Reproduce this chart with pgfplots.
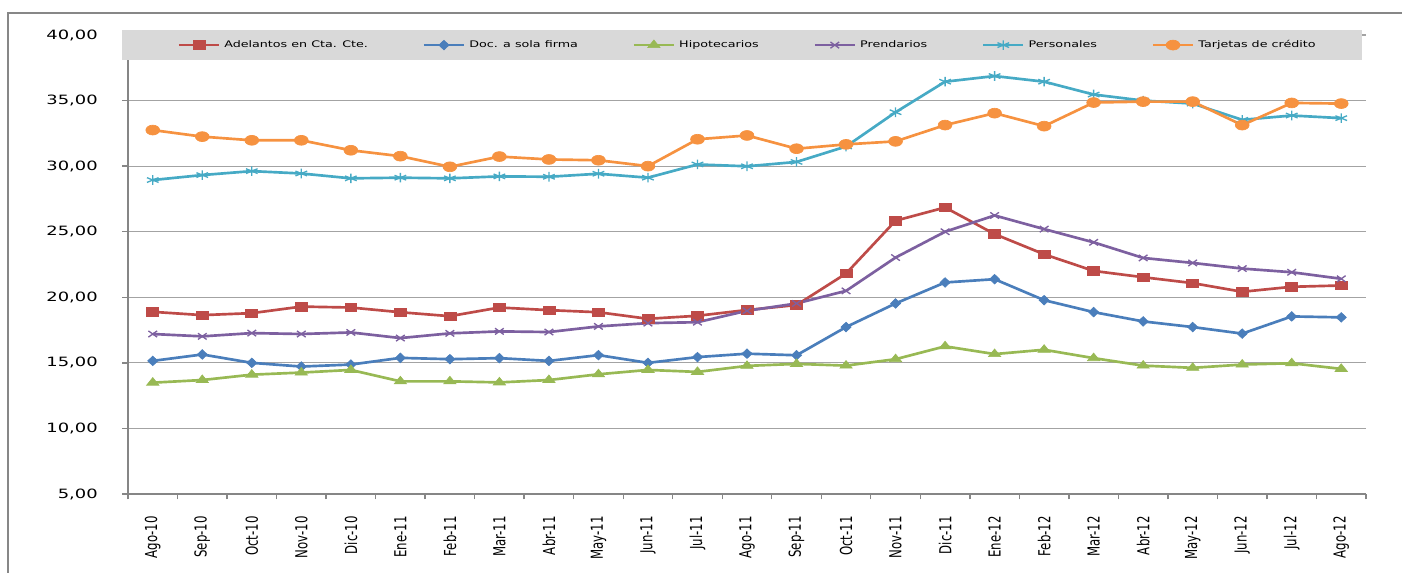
\documentclass[border=0pt]{standalone}
\usepackage{fontspec}
\setmainfont{DejaVu Sans}[FakeStretch=1.4]
\newfontfamily\tallfont{DejaVu Sans}[FakeStretch=0.71]
\usepackage{pgfplots}
\usepackage{pgfplotstable}
\pgfplotsset{compat=1.18}
\definecolor{cred}{HTML}{BE4B48}
\definecolor{cblue}{HTML}{4A7EBB}
\definecolor{cgreen}{HTML}{98B954}
\definecolor{cpurple}{HTML}{7D60A0}
\definecolor{cteal}{HTML}{46AAC5}
\definecolor{corange}{HTML}{F69240}
\definecolor{framegray}{HTML}{878787}
\definecolor{axisgray}{HTML}{868686}
\definecolor{gridgray}{HTML}{A3A3A3}
\definecolor{leggray}{HTML}{D9D9D9}

\pgfplotstableread{
x adel doc hipo prend pers tarj
0 18.89 15.15 13.49 17.20 28.94 32.75
1 18.64 15.64 13.69 17.02 29.32 32.25
2 18.79 15.00 14.10 17.27 29.62 31.97
3 19.29 14.72 14.26 17.20 29.44 31.97
4 19.22 14.87 14.46 17.32 29.07 31.21
5 18.86 15.38 13.59 16.89 29.12 30.76
6 18.56 15.28 13.59 17.25 29.07 29.95
7 19.22 15.36 13.51 17.40 29.22 30.73
8 19.02 15.15 13.69 17.35 29.19 30.51
9 18.86 15.59 14.13 17.78 29.42 30.45
10 18.36 15.00 14.46 18.03 29.12 30.00
11 18.59 15.44 14.31 18.10 30.13 32.05
12 19.03 15.70 14.77 18.97 29.99 32.34
13 19.41 15.58 14.92 19.53 30.32 31.33
14 21.81 17.73 14.79 20.49 31.50 31.66
15 25.84 19.53 15.28 23.03 34.11 31.89
16 26.85 21.13 16.26 25.00 36.44 33.13
17 24.82 21.38 15.67 26.24 36.87 34.04
18 23.28 19.78 16.00 25.20 36.44 33.05
19 22.01 18.87 15.36 24.19 35.46 34.85
20 21.53 18.16 14.79 23.00 35.00 34.92
21 21.08 17.73 14.62 22.62 34.77 34.92
22 20.42 17.23 14.87 22.19 33.53 33.13
23 20.80 18.54 14.97 21.91 33.86 34.82
24 20.90 18.47 14.54 21.41 33.66 34.77
}\datatable

\begin{document}
\begin{tikzpicture}
\begin{scope}[x=0.75pt,y=0.75pt]
\useasboundingbox (0,0) rectangle (1402,572);
\draw[framegray, line width=1.1pt] (8,-30) -- (8,559) -- (1440,559);
\end{scope}
\begin{axis}[
  set layers,
  at={(96pt,58.5pt)}, anchor=south west,
  scale only axis, width=928.5pt, height=344.25pt,
  xmin=-0.5, xmax=24.5, ymin=5, ymax=40,
  clip=false,
  axis x line*=bottom, axis y line*=left,
  axis line style={draw=axisgray, line width=1pt},
  y axis line style={draw=none},
  xtick={0,...,24},
  xticklabels={Ago-10,Sep-10,Oct-10,Nov-10,Dic-10,Ene-11,Feb-11,Mar-11,Abr-11,May-11,Jun-11,Jul-11,Ago-11,Sep-11,Oct-11,Nov-11,Dic-11,Ene-12,Feb-12,Mar-12,Abr-12,May-12,Jun-12,Jul-12,Ago-12},
  major x tick style={draw=none},
  minor xtick={-0.5,0.5,...,24.5},
  minor x tick style={draw=axisgray, line width=1pt},
  minor tick length=4pt,
  major tick length=4.5pt,
  tick align=outside,
  ytick={5,10,...,40},
  ytick style={draw=axisgray, line width=1pt},
  ymajorgrids,
  grid style={draw=gridgray, line width=0.9pt},
  /pgf/number format/.cd, fixed, fixed zerofill, precision=2, use comma, assume math mode=true,
  /pgfplots/.cd,
  yticklabel style={font=\fontsize{9.6}{11}\selectfont, text=black, inner sep=0pt},
  yticklabel shift=18pt,
  xticklabel style={font=\tallfont\fontsize{12.4}{14}\selectfont, text=black, rotate=90, anchor=east, inner sep=0pt},
  xticklabel shift=12pt,
  legend columns=6,
  legend style={at={(axis description cs:0.0404,0.978)}, anchor=west, fill=none, draw=none, inner sep=0pt,
    font=\fontsize{6.8}{8}\selectfont, text=black,
    nodes={inner xsep=3.5pt, inner ysep=1pt},
    /tikz/every even column/.append style={column sep=38pt}},
  legend image code/.code={\draw[mark repeat=2,mark phase=2,#1] plot coordinates {(0pt,0pt) (15pt,0pt) (30pt,0pt)};},
  legend image post style={line width=1pt},
  every axis plot/.append style={line width=2pt},
]
\draw[axisgray, line width=1pt] (axis cs:-0.5,5) -- (axis cs:-0.5,38.09);
\addplot[color=cred, mark=square*, mark size=3.2pt, mark options={fill=cred, xscale=1.4, line width=0.5pt}] table[x=x,y=adel] {\datatable};
\addlegendentry{Adelantos en Cta. Cte.}
\addplot[color=cblue, mark=diamond*, mark size=3.6pt, mark options={fill=cblue, xscale=1.4, line width=0.5pt}] table[x=x,y=doc] {\datatable};
\addlegendentry{Doc. a sola firma}
\addplot[color=cgreen, mark=triangle*, mark size=3.8pt, mark options={fill=cgreen, xscale=1.4, line width=0.5pt}] table[x=x,y=hipo] {\datatable};
\addlegendentry{Hipotecarios}
\addplot[color=cpurple, mark=x, mark size=3.3pt, mark options={xscale=1.4, line width=1pt}] table[x=x,y=prend] {\datatable};
\addlegendentry{Prendarios}
\addplot[color=cteal, mark=asterisk, mark size=3.6pt, mark options={xscale=1.4, line width=1pt}] table[x=x,y=pers] {\datatable};
\addlegendentry{Personales}
\addplot[color=corange, mark=*, mark size=3.7pt, mark options={fill=corange, xscale=1.4, line width=0.5pt}] table[x=x,y=tarj] {\datatable};
\addlegendentry{Tarjetas de crédito}
\fill[leggray] (axis cs:-0.621,38.09) rectangle (axis cs:24.42,40.38);
\end{axis}
\end{tikzpicture}
\end{document}
